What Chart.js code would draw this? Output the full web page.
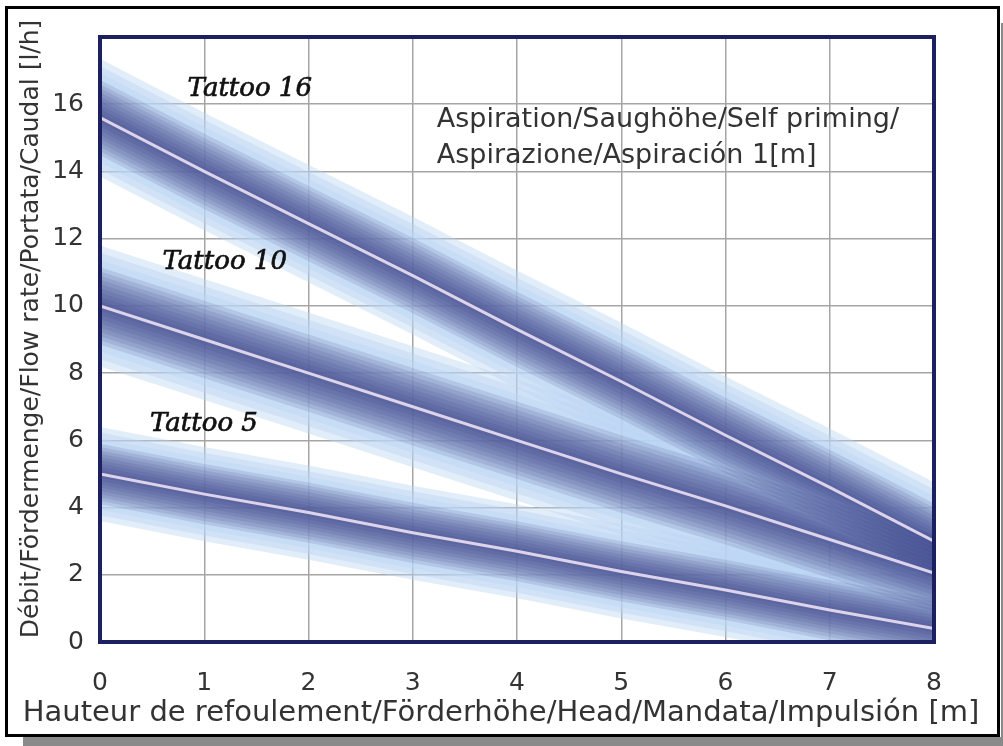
<!DOCTYPE html>
<html>
<head>
<meta charset="utf-8">
<script src="https://cdn.jsdelivr.net/npm/chart.js@4.4.0/dist/chart.umd.min.js"></script>
<style>
  html, body { margin: 0; padding: 0; background: #fff; }
</style>
</head>
<body>
<canvas id="myChart" width="1003" height="746"></canvas>
<script>
// 데이터
const heads = [0, 1, 2, 3, 4, 5, 6, 7, 8];
const seriesNames = ['Tattoo 16', 'Tattoo 10', 'Tattoo 5'];
const tattoo16 = [15.6, 14.0, 12.45, 10.9, 9.3, 7.75, 6.15, 4.6, 3.0];
const tattoo10 = [10.0, 9.0, 8.0, 7.0, 6.0, 5.0, 4.05, 3.05, 2.05];
const tattoo5 = [5.0, 4.4, 3.85, 3.25, 2.7, 2.1, 1.55, 0.95, 0.4];
const bandHalfWidth = [1.75, 1.8, 1.4]; // 띠 반폭 (l/h)
const noteLines = ['Aspiration/Saughöhe/Self priming/', 'Aspirazione/Aspiración 1[m]'];
const xTitle = 'Hauteur de refoulement/Förderhöhe/Head/Mandata/Impulsión [m]';
const yTitle = 'Débit/Fördermenge/Flow rate/Portata/Caudal [l/h]';

const ctx = document.getElementById('myChart');
const seriesValues = [tattoo16, tattoo10, tattoo5];

// 바깥쪽 -> 안쪽 그라데이션 층 (반폭 비율, 색)
const light = 'rgba(185, 212, 244, 0.42)';
const navy = 'rgba(58, 62, 132, 0.14)';
const layers = [
  [1.0, light], [0.88, light], [0.76, light],
  [0.64, navy], [0.57, navy], [0.5, navy], [0.43, navy], [0.36, navy],
  [0.29, navy], [0.22, navy], [0.15, navy], [0.08, navy],
];

const datasets = [];
seriesValues.forEach((vals, s) => {
  layers.forEach(([f, color], l) => {
    const ord = 1000 - l * 10 + s;
    datasets.push({
      data: heads.map((h, i) => ({ x: h, y: vals[i] + f * bandHalfWidth[s] })),
      fill: '+1',
      backgroundColor: color,
      borderWidth: 0,
      pointRadius: 0,
      order: ord,
    });
    datasets.push({
      data: heads.map((h, i) => ({ x: h, y: vals[i] - f * bandHalfWidth[s] })),
      fill: false,
      borderWidth: 0,
      pointRadius: 0,
      order: ord,
    });
  });
  datasets.push({
    label: seriesNames[s],
    data: heads.map((h, i) => ({ x: h, y: vals[i] })),
    fill: false,
    borderColor: '#ddd3ea',
    borderWidth: 3,
    pointRadius: 0,
    order: 0,
  });
});

// 바깥 테두리, 그림자, 글자
const framePlugin = {
  id: 'frame',
  beforeDraw(chart) {
    const c = chart.ctx;
    c.save();
    c.fillStyle = '#fff';
    c.fillRect(0, 0, chart.width, chart.height);
    c.fillStyle = '#8a8a8a';
    c.fillRect(23, 737, chart.width - 23, chart.height - 737);
    c.fillRect(1001, 23, chart.width - 1001, chart.height - 23);
    c.strokeStyle = '#000';
    c.lineWidth = 3;
    c.strokeRect(6.5, 7.5, 992, 728);
    c.restore();
  },
  afterDatasetsDraw(chart) {
    const c = chart.ctx;
    const a = chart.chartArea;
    const xs = chart.scales.x;
    const ys = chart.scales.y;
    c.save();
    c.strokeStyle = '#1d2060';
    c.lineWidth = 4;
    c.strokeRect(a.left, a.top, a.right - a.left, a.bottom - a.top);

    // 시리즈 이름
    const anchors = [[0.84, 16.45], [0.6, 11.3], [0.48, 6.48]];
    c.fillStyle = '#111';
    c.strokeStyle = '#111';
    c.lineWidth = 0.7;
    c.font = 'italic 26px "DejaVu Serif"';
    c.textAlign = 'left';
    c.textBaseline = 'middle';
    seriesNames.forEach((name, i) => {
      const px = xs.getPixelForValue(anchors[i][0]);
      const py = ys.getPixelForValue(anchors[i][1]);
      c.fillText(name, px, py);
      c.strokeText(name, px, py);
    });

    // 흡입 높이 메모
    c.fillStyle = '#333';
    c.font = '27px "DejaVu Sans"';
    noteLines.forEach((t, i) => {
      c.fillText(t, xs.getPixelForValue(3.23), ys.getPixelForValue(15.53 - i * 1.07));
    });

    // 축 제목
    c.font = '29px "DejaVu Sans"';
    c.textAlign = 'center';
    c.fillText(xTitle, 501, 713);
    c.translate(31, 329);
    c.rotate(-Math.PI / 2);
    c.font = '25px "DejaVu Sans"';
    c.fillText(yTitle, 0, 0);
    c.restore();
  },
};

const chart = new Chart(ctx, {
  type: 'line',
  data: { datasets: datasets },
  plugins: [framePlugin],
  options: {
    responsive: false,
    animation: false,
    devicePixelRatio: 1,
    layout: { padding: { left: 0, top: 37, right: 69, bottom: 0 } },
    plugins: {
      legend: { display: false },
      tooltip: { enabled: false },
      filler: { propagate: false },
    },
    scales: {
      x: {
        type: 'linear',
        min: 0,
        max: 8,
        ticks: { stepSize: 1, color: '#333', font: { family: 'DejaVu Sans', size: 25 }, padding: 26 },
        grid: { color: '#a5a5a5', lineWidth: 1.5, drawTicks: false },
        border: { display: false },
        afterFit: (scale) => { scale.height = 104; },
      },
      y: {
        min: 0,
        max: 18,
        ticks: {
          stepSize: 2,
          color: '#333',
          font: { family: 'DejaVu Sans', size: 25 },
          padding: 16,
          callback: (v) => (v > 16 ? '' : v),
        },
        grid: { color: '#a5a5a5', lineWidth: 1.5, drawTicks: false },
        border: { display: false },
        afterFit: (scale) => { scale.width = 100; },
      },
    },
  },
});
</script>
</body>
</html>
